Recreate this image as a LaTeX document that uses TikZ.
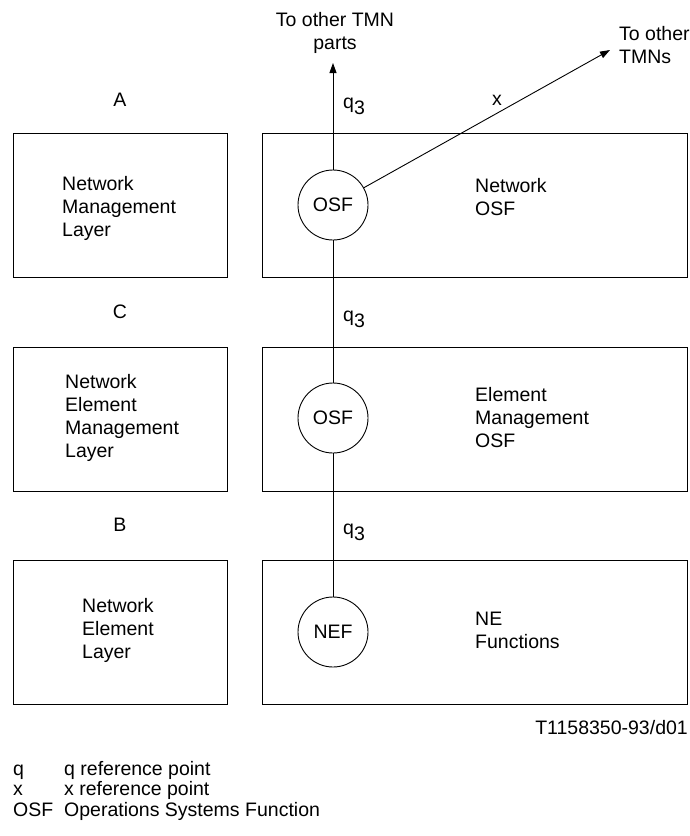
\documentclass[tikz,border=0pt]{standalone}
\usepackage{fontspec}
\setmainfont{Liberation Sans}
\usetikzlibrary{arrows.meta}
\begin{document}
\begin{tikzpicture}[x=1pt,y=-1pt,
  every node/.style={font=\fontsize{19.5}{23}\selectfont, inner sep=0pt},
  layerbox/.style={draw, line width=0.9pt, minimum width=#1, minimum height=144pt, anchor=north west},
  func/.style={draw, circle, line width=0.9pt, minimum size=70pt},
  txt/.style={align=left, anchor=west},
  conn/.style={line width=0.9pt},
  arr/.style={line width=0.9pt, -{Triangle[length=10pt,width=7pt]}}]
\useasboundingbox (0,0) rectangle (690,836);
% boxes
\node[layerbox=214pt] (lb1) at (13,133) {};
\node[layerbox=425pt] (rb1) at (262,133) {};
\node[layerbox=214pt] (lb2) at (13,347) {};
\node[layerbox=425pt] (rb2) at (262,347) {};
\node[layerbox=214pt] (lb3) at (13,560) {};
\node[layerbox=425pt] (rb3) at (262,560) {};
% function circles
\node[func] (osf1) at (333,205) {OSF};
\node[func] (osf2) at (333,418) {OSF};
\node[func] (nef) at (333,632) {NEF};
% left texts
\node[txt] (t1) at (62,208) {Network\\Management\\Layer};
\node[txt] (t2) at (65,418) {Network\\Element\\Management\\Layer};
\node[txt] (t3) at (82,630) {Network\\Element\\Layer};
% right texts
\node[txt] (r1) at (475,197) {Network\\OSF};
\node[txt] (r2) at (475,418) {Element\\Management\\OSF};
\node[txt] (r3) at (475,630) {NE\\Functions};
% reference point letters
\node (la) at (120,100) {A};
\node (lc) at (120,312) {C};
\node (lb) at (120,525) {B};
% connectors
\coordinate (uptip) at (333,63);
\coordinate (xtip) at (610,50);
\draw[arr] (osf1) -- (uptip);
\draw[arr] (osf1) -- (xtip);
\draw[conn] (osf1) -- (osf2);
\draw[conn] (osf2) -- (nef);
% q3 labels
\node[anchor=base west] (q1) at (343,108) {q\raisebox{-6pt}{3}};
\node[anchor=base west] (q2) at (343,321) {q\raisebox{-6pt}{3}};
\node[anchor=base west] (q3) at (343,534) {q\raisebox{-6pt}{3}};
\node[anchor=base] (xl) at (497,105) {x};
% external labels
\node[align=center] (tmn) at (335,33) {To other TMN\\parts};
\node[txt] (tmns) at (619,45) {To other\\TMNs};
\node[anchor=base east] (code) at (688,734) {T1158350-93/d01};
% legend
\node[anchor=base west] (k1) at (13,775) {q};
\node[anchor=base west] (v1) at (64,775) {q reference point};
\node[anchor=base west] (k2) at (13,795.5) {x};
\node[anchor=base west] (v2) at (64,795.5) {x reference point};
\node[anchor=base west] (k3) at (13,816) {OSF};
\node[anchor=base west] (v3) at (64,816) {Operations Systems Function};
\end{tikzpicture}
\end{document}
